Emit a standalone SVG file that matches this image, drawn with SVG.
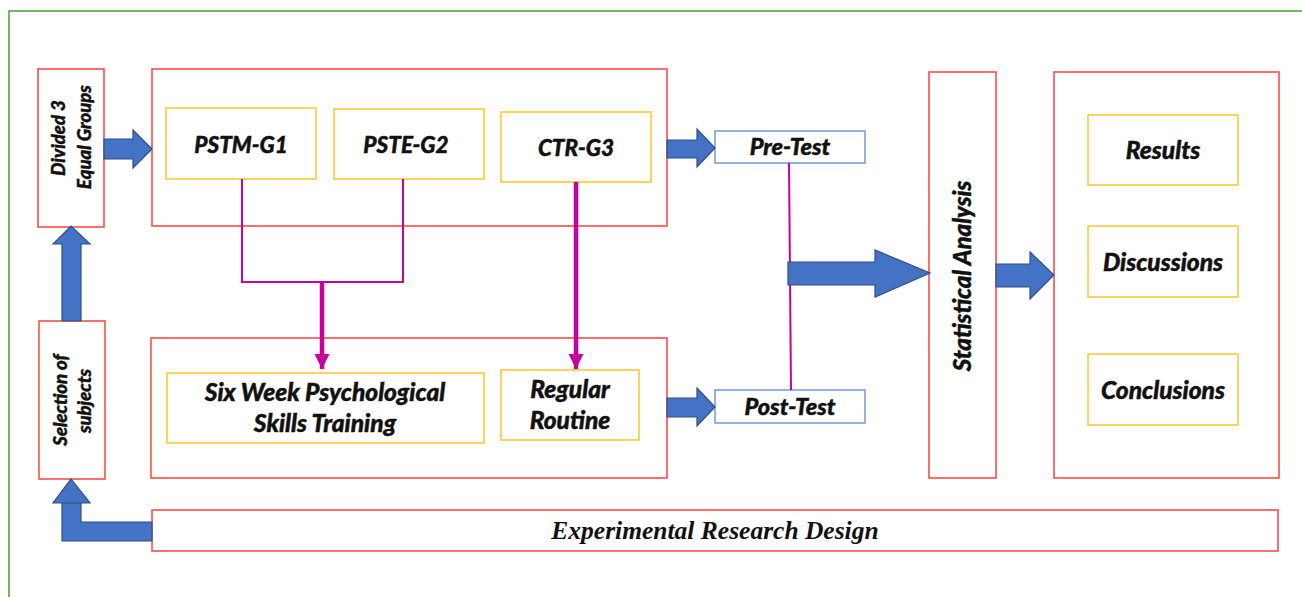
<svg xmlns="http://www.w3.org/2000/svg" width="1302" height="597" viewBox="0 0 1302 597">
  <defs>
    <style>
      .frame { fill: none; stroke: #4a9a42; stroke-width: 1.5; }
      .outer { fill: #ffffff; stroke: #ff4b4b; stroke-width: 1.6; }
      .inner { fill: #ffffff; stroke: #ffc935; stroke-width: 1.6; }
      .test  { fill: #ffffff; stroke: #7a9fdc; stroke-width: 1.6; }
      .blk   { fill: #4472c4; stroke: #2f4f8a; stroke-width: 1.2; stroke-linejoin: miter; }
      .link  { fill: none; stroke: #c8009c; stroke-width: 2; }
      .link-thick { fill: none; stroke: #c8009c; stroke-width: 4.5; }
      .lbl   { font-family: Lato, "Liberation Sans", sans-serif; font-weight: 900; font-style: italic; fill: #111111; stroke: #111111; stroke-width: 0.45; text-anchor: middle; }
      .serif { font-family: "Liberation Serif", serif; font-weight: bold; font-style: italic; fill: #111111; text-anchor: middle; }
    </style>
    <marker id="tipM" viewBox="0 0 10 10" refX="10" refY="5" markerWidth="3.4" markerHeight="3.4" markerUnits="strokeWidth" orient="auto">
      <path d="M0,0 L10,5 L0,10 Z" fill="#c8009c"/>
    </marker>
  </defs>

  <rect x="0" y="0" width="1302" height="597" fill="#ffffff"/>
  <rect class="frame" x="9" y="11" width="1310" height="600"/>

  <g id="divided">
    <rect class="outer" x="38" y="69" width="66" height="158"/>
    <text class="lbl" font-size="18.5" transform="translate(65,138) rotate(-90)">Divided 3</text>
    <text class="lbl" font-size="18.5" transform="translate(91,137) rotate(-90)">Equal Groups</text>
  </g>

  <g id="selection">
    <rect class="outer" x="39" y="321" width="66" height="158"/>
    <text class="lbl" font-size="18.5" transform="translate(67,400) rotate(-90)">Selection of</text>
    <text class="lbl" font-size="18.5" transform="translate(91,401) rotate(-90)">subjects</text>
  </g>

  <g id="groups">
    <rect class="outer" x="152" y="69" width="515" height="157"/>
  </g>
  <g id="pstm">
    <rect class="inner" x="166" y="108" width="150" height="71"/>
    <text class="lbl" font-size="22.5" x="241" y="153">PSTM-G1</text>
  </g>
  <g id="pste">
    <rect class="inner" x="334" y="109" width="150" height="70"/>
    <text class="lbl" font-size="22.5" x="406" y="153">PSTE-G2</text>
  </g>
  <g id="ctr">
    <rect class="inner" x="501" y="112" width="150" height="70"/>
    <text class="lbl" font-size="22.5" x="576" y="156">CTR-G3</text>
  </g>

  <g id="interventions">
    <rect class="outer" x="151" y="338" width="516" height="140"/>
  </g>
  <g id="training">
    <rect class="inner" x="167" y="373" width="317" height="70"/>
    <text class="lbl" font-size="24.5" x="325" y="401">Six Week Psychological</text>
    <text class="lbl" font-size="24.5" x="325" y="432">Skills Training</text>
  </g>
  <g id="routine">
    <rect class="inner" x="501" y="370" width="138" height="70"/>
    <text class="lbl" font-size="24.5" x="570" y="398">Regular</text>
    <text class="lbl" font-size="24.5" x="570" y="429">Routine</text>
  </g>

  <g id="pretest">
    <rect class="test" x="715" y="131" width="150" height="32"/>
    <text class="lbl" font-size="23.5" x="790" y="155">Pre-Test</text>
  </g>
  <g id="posttest">
    <rect class="test" x="715" y="390" width="150" height="33"/>
    <text class="lbl" font-size="23.5" x="790" y="415">Post-Test</text>
  </g>

  <g id="statistics">
    <rect class="outer" x="929" y="72" width="67" height="406"/>
    <text class="lbl" font-size="24" transform="translate(971,276) rotate(-90)">Statistical Analysis</text>
  </g>

  <g id="outcomes">
    <rect class="outer" x="1054" y="72" width="225" height="406"/>
  </g>
  <g id="results">
    <rect class="inner" x="1088" y="115" width="150" height="70"/>
    <text class="lbl" font-size="24.5" x="1163" y="159">Results</text>
  </g>
  <g id="discussions">
    <rect class="inner" x="1088" y="226" width="150" height="71"/>
    <text class="lbl" font-size="24.5" x="1163" y="271">Discussions</text>
  </g>
  <g id="conclusions">
    <rect class="inner" x="1088" y="354" width="150" height="71"/>
    <text class="lbl" font-size="24.5" x="1163" y="399">Conclusions</text>
  </g>

  <g id="design">
    <rect class="outer" x="152" y="510" width="1126" height="41"/>
    <text class="serif" font-size="25.5" x="715" y="539">Experimental Research Design</text>
  </g>

  <!-- connectors, drawn over the boxes they cross -->
  <g id="connectors">
    <!-- Selection to Divided (upward block arrow) -->
    <path class="blk" d="M62,321 L62,244 L53,244 L71,226 L90,244 L81,244 L81,321 Z"/>
    <!-- Experimental design back to Selection (L-shaped block arrow) -->
    <path class="blk" d="M152,522 L81,522 L81,503 L90,503 L71,479 L53,503 L62,503 L62,541 L152,541 Z"/>
    <line x1="62" y1="503" x2="81" y2="503" stroke="#2f4f8a" stroke-width="1"/>
    <!-- Divided to groups -->
    <path class="blk" d="M104,139 L133,139 L133,130 L152,149 L133,168 L133,159 L104,159 Z"/>
    <!-- groups to Pre-Test -->
    <path class="blk" d="M667,140 L697,140 L697,129 L715,148 L697,167 L697,158 L667,158 Z"/>
    <!-- training to Post-Test -->
    <path class="blk" d="M667,398 L697,398 L697,388 L715,407 L697,426 L697,417 L667,417 Z"/>
    <!-- group assignments -->
    <path class="link" d="M242,179 L242,282 L403,282 L403,179"/>
    <path class="link-thick" d="M322,282 L322,369" marker-end="url(#tipM)"/>
    <path class="link-thick" d="M576,182 L576,369" marker-end="url(#tipM)"/>
    <!-- pre/post link -->
    <line class="link" x1="789" y1="163" x2="791" y2="390"/>
    <!-- tests to Statistical Analysis -->
    <path class="blk" d="M788,262 L875,262 L875,250 L930,273 L875,297 L875,285 L788,285 Z"/>
    <!-- Statistical Analysis to outcomes -->
    <path class="blk" d="M996,264 L1030,264 L1030,252 L1054,275 L1030,299 L1030,287 L996,287 Z"/>
  </g>
</svg>
